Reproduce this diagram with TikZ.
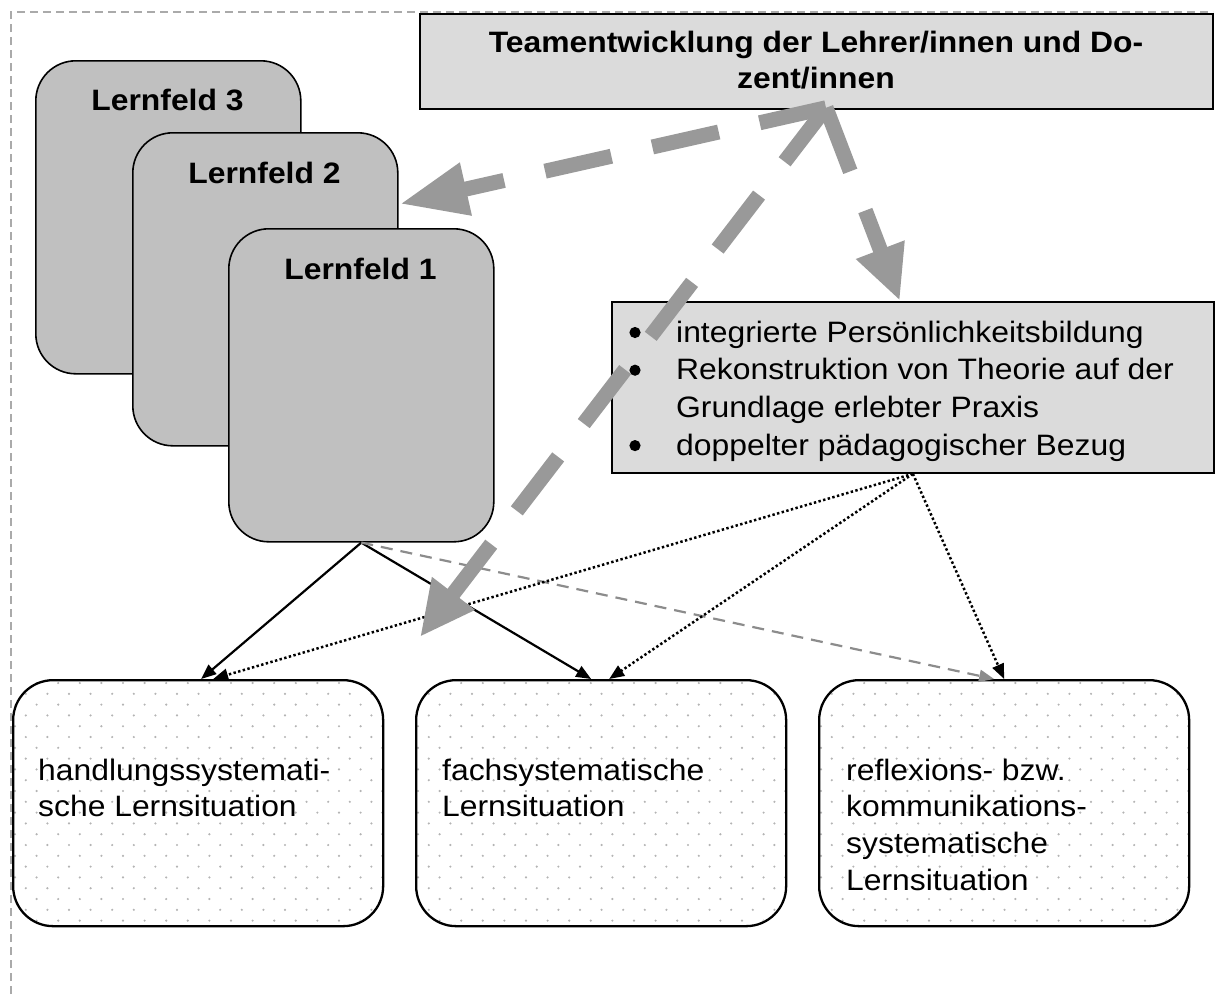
\documentclass[tikz,border=0pt]{standalone}
\usepackage{fontspec}
\setmainfont[FakeStretch=1.08]{Liberation Sans}
\usetikzlibrary{arrows.meta,calc}
\definecolor{lfgray}{RGB}{192,192,192}
\definecolor{boxgray}{RGB}{219,219,219}
\definecolor{arrowgray}{RGB}{153,153,153}
\definecolor{thingray}{RGB}{140,140,140}
\definecolor{bordergray}{RGB}{170,170,170}
\definecolor{dotgray}{RGB}{180,180,180}
\begin{document}
\begin{tikzpicture}[x=1pt,y=-1pt,
  outerline/.style={draw=bordergray,line width=1.4pt,dash pattern=on 8pt off 5pt},
  greybox/.style={draw=black,line width=1.8pt,fill=boxgray,inner sep=0pt,anchor=north west},
  lfbox/.style={draw=black,line width=1.6pt,fill=lfgray,rounded corners=40pt,minimum width=265pt,minimum height=313pt,inner sep=0pt,anchor=north west},
  sitbox/.style={draw=black,line width=2.3pt,rounded corners=40pt,minimum width=370pt,minimum height=246pt,inner sep=0pt,anchor=north west},
  txt/.style={inner sep=0pt,anchor=base west},
  lftxt/.style={inner sep=0pt,anchor=base,font=\fontsize{29.5}{34}\selectfont\bfseries},
  bulletdot/.style={fill=black},
  solidarr/.style={draw=black,line width=2.2pt,-{Triangle[length=15pt,width=12pt]}},
  dotarr/.style={draw=black,line width=2.5pt,dash pattern=on 2.4pt off 2.4pt,-{Triangle[length=15pt,width=12pt]}},
  greydash/.style={draw=thingray,line width=2.2pt,dash pattern=on 12pt off 8pt,-{Triangle[length=15pt,width=12pt,fill=thingray]}},
  bigarr/.style={draw=arrowgray,line width=15pt,dash pattern=on 68pt off 42pt}
]
\useasboundingbox (0,0) rectangle (1215,994);
% outer dashed frame
\draw[outerline] (11,994) -- (11,12) -- (1213,12);

% top box
\node[greybox,minimum width=793pt,minimum height=95pt] (team) at (419,13) {};
\node[inner sep=0pt,anchor=base] (teamt) at (816,52)
  {\parbox[t]{780pt}{\centering\fontsize{29.5}{36}\selectfont\bfseries Teamentwicklung der Lehrer/innen und Do-\\zent/innen}};

% Lernfeld boxes
\node[lfbox] (lf3) at (35,60) {};
\node[lftxt] (lf3t) at (167.5,110) {Lernfeld 3};
\node[lfbox] (lf2) at (132,132) {};
\node[lftxt] (lf2t) at (264.5,183) {Lernfeld 2};
\node[lfbox] (lf1) at (228,228) {};
\node[lftxt] (lf1t) at (360.5,279) {Lernfeld 1};

% bullet box
\node[greybox,minimum width=602pt,minimum height=171pt] (bul) at (611,301) {};
\node[txt] (bult) at (676,342)
  {\parbox[t]{530pt}{\raggedright\fontsize{29.5}{37.7}\selectfont
   integrierte Persönlichkeitsbildung\\
   Rekonstruktion von Theorie auf der\\
   Grundlage erlebter Praxis\\
   doppelter pädagogischer Bezug}};
\fill[bulletdot] (635,332.5) circle (5.6pt);
\fill[bulletdot] (635,370.2) circle (5.6pt);
\fill[bulletdot] (635,445.6) circle (5.6pt);

% dotted background of the situation boxes
\foreach \bx in {12,415,818}{
  \begin{scope}
    \clip[rounded corners=40pt] (\bx,679) rectangle ++(370,246);
    \foreach \i in {0,...,17}{
      \foreach \j in {0,...,22}{
        \fill[dotgray] ({\bx+3+\i*21.6+mod(\j,2)*10.8},{683+\j*10.8}) circle (1.2pt);
      }
    }
  \end{scope}
}
\node[sitbox] (ba) at (12,679) {};
\node[sitbox] (bb) at (415,679) {};
\node[sitbox] (bc) at (818,679) {};
\node[txt] (bat) at (38,780)
  {\parbox[t]{330pt}{\raggedright\fontsize{29.5}{36.7}\selectfont handlungssystemati-\\sche Lernsituation}};
\node[txt] (bbt) at (442,780)
  {\parbox[t]{330pt}{\raggedright\fontsize{29.5}{36.7}\selectfont fachsystematische\\Lernsituation}};
\node[txt] (bct) at (846,780)
  {\parbox[t]{330pt}{\raggedright\fontsize{29.5}{36.7}\selectfont reflexions- bzw.\\kommunikations-\\systematische\\Lernsituation}};

% thin connectors
\draw[solidarr] (lf1.south) -- ($(ba.north)+(3,0)$);
\draw[solidarr] (lf1.south) -- ($(bb.north)+(-10,0)$);
\draw[greydash] (lf1.south) -- ($(bc.north)+(-10,0)$);
\draw[dotarr] (bul.south) -- ($(ba.north)+(15,0)$);
\draw[dotarr] (bul.south) -- ($(bb.north)+(8,0)$);
\draw[dotarr] (bul.south) -- (bc.north);

% big grey dashed arrows
\coordinate (teamfoot) at ($(team.south west)+(407,-2)$);
\coordinate (lf2tip) at ($(lf2.north east)+(1,72)$);
\coordinate (midtip) at (420,637);
\coordinate (bultip) at ($(bul.north)+(-13,0)$);
\draw[bigarr,-{Triangle[length=68pt,width=50pt,fill=arrowgray]}] (teamfoot) -- (lf2tip);
\draw[bigarr,-{Triangle[length=55pt,width=50pt,fill=arrowgray]}] (teamfoot) -- (midtip);
\draw[bigarr,-{Triangle[length=55pt,width=48pt,fill=arrowgray]}] (teamfoot) -- (bultip);
\end{tikzpicture}
\end{document}
